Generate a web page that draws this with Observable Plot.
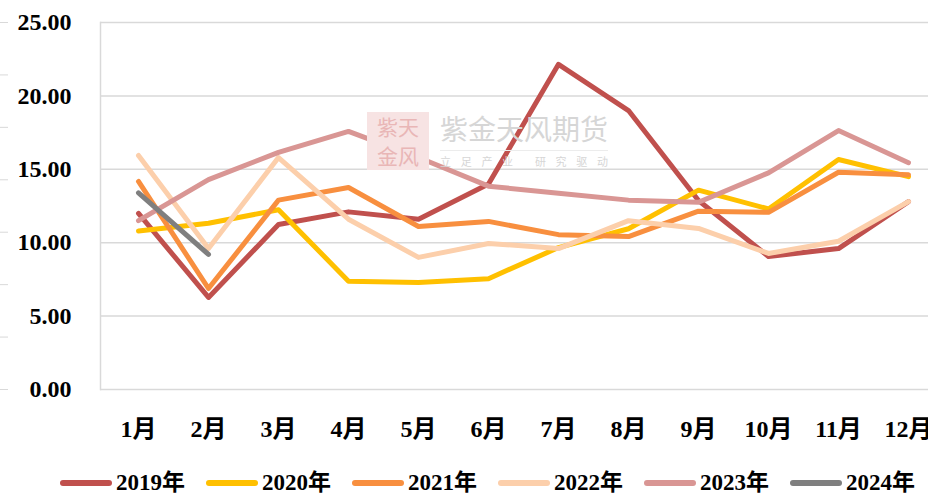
<!DOCTYPE html>
<html>
<head>
<meta charset="utf-8">
<script src="https://cdn.jsdelivr.net/npm/d3@7"></script>
<script src="https://cdn.jsdelivr.net/npm/@observablehq/plot@0.6"></script>
<style>
  html, body { margin: 0; padding: 0; background: #fff; overflow: hidden; }
  #wrap { position: relative; width: 928px; height: 496px; font-family: "Liberation Serif", "Noto Sans CJK SC", serif; font-weight: bold; }
  #legend { position: absolute; left: 60px; top: 470px; height: 26px; display: flex; align-items: center; font-size: 23px; line-height: 26px; color: #000; }
  .item { display: flex; align-items: center; width: 146px; }
  .sw { width: 52px; height: 6px; border-radius: 3px; margin-right: 4px; }
  .wm { position: absolute; font-family: "Noto Sans CJK SC", sans-serif; font-weight: normal; pointer-events: none; }
</style>
</head>
<body>
<div id="wrap"></div>
<script>
const months = ["1月","2月","3月","4月","5月","6月","7月","8月","9月","10月","11月","12月"];
const years = ["2019年","2020年","2021年","2022年","2023年","2024年"];
const colors = ["#C0504D","#FFC000","#F88F3F","#FCCFAB","#D99694","#7F7F7F"];
const v2019 = [12.0, 6.27, 11.24, 12.1, 11.6, 14.0, 22.15, 19.0, 12.87, 9.06, 9.6, 12.8];
const v2020 = [10.8, 11.33, 12.24, 7.38, 7.29, 7.55, 9.67, 10.95, 13.58, 12.3, 15.67, 14.5];
const v2021 = [14.17, 6.88, 12.9, 13.76, 11.1, 11.45, 10.55, 10.42, 12.15, 12.07, 14.8, 14.63];
const v2022 = [15.94, 9.6, 15.8, 11.6, 9.0, 9.95, 9.6, 11.5, 10.97, 9.27, 10.1, 12.8];
const v2023 = [11.5, 14.3, 16.15, 17.58, 15.8, 13.85, 13.37, 12.9, 12.76, 14.76, 17.64, 15.45];
const v2024 = [13.4, 9.2];
const series = [v2019, v2020, v2021, v2022, v2023, v2024];
const yTicks = [0, 5, 10, 15, 20, 25];
const leftTicks = [0, 25/7, 50/7, 75/7, 100/7, 125/7, 150/7, 25];

const data = [];
series.forEach((vals, i) => vals.forEach((v, j) => data.push({year: years[i], month: months[j], value: v})));

const font = '"Liberation Serif", "Noto Sans CJK SC", serif';
const chart = Plot.plot({
  width: 928, height: 466,
  marginLeft: 100, marginRight: 0, marginTop: 22, marginBottom: 77,
  style: {fontFamily: font, fontSize: "24px", fontWeight: "bold", color: "#000", background: "transparent", overflow: "visible"},
  x: {type: "point", domain: months, range: [135.5, 910.5], padding: 0, label: null},
  y: {domain: [0, 25], label: null},
  color: {domain: years, range: colors},
  marks: [
    Plot.ruleY(yTicks, {stroke: "#d9d9d9", strokeWidth: 1.5}),
    Plot.frame({anchor: "left", stroke: "#d9d9d9", strokeWidth: 1.5}),
    Plot.axisY({ticks: leftTicks, tickSize: 8, tickFormat: () => "", dx: -92, stroke: "#d9d9d9", label: null}),
    Plot.axisY({ticks: yTicks, tickSize: 0, tickPadding: 29, tickFormat: d3.format(".2f"), label: null, fill: "#000"}),
    Plot.axisX({tickSize: 0, tickPadding: 30, label: null, fill: "#000"}),
    Plot.line(data, {x: "month", y: "value", z: "year", stroke: "year", strokeWidth: 5, strokeLinecap: "round", strokeLinejoin: "round"})
  ]
});
const wrap = document.getElementById("wrap");
wrap.appendChild(chart);

// watermark
const logo = document.createElement("div");
logo.className = "wm";
Object.assign(logo.style, {left: "367px", top: "112px", width: "62px", height: "58px", background: "#f7e3e3", color: "#e9b6b6", fontSize: "21px", lineHeight: "29px", textAlign: "center"});
logo.innerHTML = "紫天<br>金风";
wrap.appendChild(logo);
const wm1 = document.createElement("div");
wm1.className = "wm";
Object.assign(wm1.style, {left: "440px", top: "110px", fontSize: "28px", lineHeight: "36px", color: "#d6d6d6"});
wm1.textContent = "紫金天风期货";
wrap.appendChild(wm1);
const wmLine = document.createElement("div");
wmLine.className = "wm";
Object.assign(wmLine.style, {left: "440px", top: "150px", width: "168px", height: "1px", background: "#ececec"});
wrap.appendChild(wmLine);
const wm2 = document.createElement("div");
wm2.className = "wm";
Object.assign(wm2.style, {left: "440px", top: "153px", width: "168px", fontSize: "11px", lineHeight: "16px", color: "#d6d6d6", display: "flex", justifyContent: "space-between"});
"立足产业 研究驱动".split("").forEach(c => { const s = document.createElement("span"); s.textContent = c === " " ? "\u00a0" : c; wm2.appendChild(s); });
wrap.appendChild(wm2);

// legend
const legend = document.createElement("div");
legend.id = "legend";
years.forEach((y, i) => {
  const it = document.createElement("div");
  it.className = "item";
  const sw = document.createElement("div");
  sw.className = "sw";
  sw.style.background = colors[i];
  const t = document.createElement("span");
  t.textContent = y;
  it.appendChild(sw); it.appendChild(t);
  legend.appendChild(it);
});
wrap.appendChild(legend);
</script>
</body>
</html>
